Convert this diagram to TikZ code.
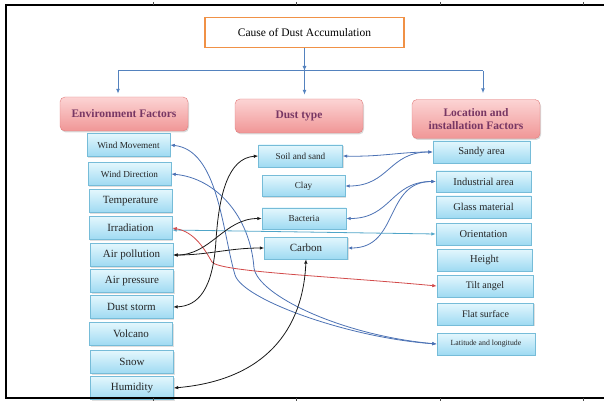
\documentclass[tikz,border=0pt]{standalone}
\usepackage{fontspec}
\setmainfont{Liberation Serif}
\usetikzlibrary{arrows.meta,shadows,positioning}
\definecolor{treeblue}{RGB}{84,130,190}
\definecolor{linkblue}{RGB}{76,114,180}
\definecolor{linkteal}{RGB}{80,165,200}
\definecolor{linkred}{RGB}{210,75,75}
\definecolor{causeorange}{RGB}{240,145,70}
\definecolor{catpurple}{RGB}{120,55,100}
\definecolor{pinktop}{RGB}{252,212,212}
\definecolor{pinkbot}{RGB}{240,150,150}
\definecolor{pinkedge}{RGB}{225,125,125}
\definecolor{cyantop}{RGB}{228,247,253}
\definecolor{cyanbot}{RGB}{158,218,242}
\definecolor{cyanedge}{RGB}{118,188,216}
\begin{document}
\begin{tikzpicture}[x=1pt,y=-1pt,every node/.style={font=\fontsize{11}{12}\selectfont}]
    \tikzset{
      cause/.style={draw=causeorange,line width=1.6pt,fill=white,minimum width=199pt,minimum height=30pt,font=\fontsize{11.5}{13}\selectfont},
      category/.style={rounded corners=5pt,draw=pinkedge,top color=pinktop,bottom color=pinkbot,
        drop shadow={shadow xshift=1pt,shadow yshift=-1.5pt,opacity=0.3},text=catpurple,align=center,
        minimum width=128pt,minimum height=34pt,inner sep=1pt,font=\bfseries\fontsize{11.5}{13}\selectfont},
      factor/.style={draw=cyanedge,top color=cyantop,bottom color=cyanbot,text=black!85,
        drop shadow={shadow xshift=1pt,shadow yshift=-1.2pt,opacity=0.25},
        minimum width=83pt,minimum height=23pt,inner sep=1pt},
      smalltext/.style={font=\fontsize{9.2}{10}\selectfont},
      midtext/.style={font=\fontsize{10.5}{12}\selectfont},
      tinytext/.style={font=\fontsize{7.8}{9}\selectfont},
      tree/.style={treeblue,line width=1pt},
      treearrow/.style={tree,-{Latex[length=5pt,width=4pt]}},
      link/.style={line width=0.8pt,{Latex[length=4.5pt,width=3.5pt]}-{Latex[length=4.5pt,width=3.5pt]}}
    }
    \useasboundingbox (0,0) rectangle (604,403);

    % top of the tree
    \node[cause] (cause) at (304.5,32.5) {Cause of Dust Accumulation};
    \node[category] (env) at (124,114) {Environment Factors};
    \node[category] (dtype) at (299,116) {Dust type};
    \node[category,minimum height=39pt] (locinst) at (476,119) {Location and\\installation Factors};
    \coordinate (split) at (304.5,71);
    \coordinate (lbranch) at (118,71);
    \coordinate (rbranch) at (483,71);
    \draw[treearrow] (cause) -- (split);
    \draw[tree] (lbranch) -- (rbranch);
    \draw[treearrow,shorten >=3pt] (lbranch) -- (lbranch |- env.north);
    \draw[treearrow,shorten >=4pt] (split) -- (split |- dtype.north);
    \draw[treearrow,shorten >=6pt] (rbranch) -- (rbranch |- locinst.north);

    % environment factors
    \node[factor,smalltext] (wmove) at (128.5,145) {Wind Movement};
    \node[factor,smalltext] (wdir) at (129.5,174) {Wind Direction};
    \node[factor] (temp) at (130.5,201) {Temperature};
    \node[factor] (irrad) at (130.5,228) {Irradiation};
    \node[factor] (airpol) at (131.5,255) {Air pollution};
    \node[factor] (airpress) at (132,281) {Air pressure};
    \node[factor] (dstorm) at (131.5,307) {Dust storm};
    \node[factor] (volcano) at (131,334) {Volcano};
    \node[factor] (snow) at (132,362) {Snow};
    \node[factor] (humid) at (132,388) {Humidity};

    % dust types
    \node[factor,smalltext,minimum width=84pt,minimum height=22pt] (soil) at (300.5,156) {Soil and sand};
    \node[factor,smalltext,minimum height=21pt] (clay) at (303.5,186) {Clay};
    \node[factor,smalltext,minimum width=84pt,minimum height=21pt] (bact) at (304,218.5) {Bacteria};
    \node[factor,minimum height=22pt] (carbon) at (306,248) {Carbon};

    % location and installation
    \node[factor,midtext,minimum width=97pt,minimum height=22pt] (sandy) at (481.5,152) {Sandy area};
    \node[factor,midtext,minimum width=95pt,minimum height=21pt] (indus) at (483.5,181.5) {Industrial area};
    \node[factor,midtext,minimum width=95pt,minimum height=22pt] (glass) at (483.5,207) {Glass material};
    \node[factor,midtext,minimum width=95pt,minimum height=22pt] (orient) at (483.5,234) {Orientation};
    \node[factor,midtext,minimum width=95pt,minimum height=22pt] (height) at (484.5,260) {Height};
    \node[factor,midtext,minimum width=96pt,minimum height=22pt,font=\fontsize{10}{11}\selectfont] (tilt) at (485,286) {Tilt angel};
    \node[factor,midtext,minimum width=96pt,minimum height=22pt,font=\fontsize{10}{11}\selectfont] (flat) at (485.5,314) {Flat surface};
    \node[factor,tinytext,minimum width=98pt,minimum height=22pt] (latlong) at (486,344) {Latitude and longitude};

    % links between the groups
    \draw[link,linkblue] (wmove.east) .. controls (218,150) and (222,230) .. (235,275)
      .. controls (243,300) and (350,338) .. (latlong.west);
    \draw[link,linkblue] (wdir.east) .. controls (215,178) and (250,215) .. (254,268)
      .. controls (258,295) and (340,335) .. (latlong.west);
    \draw[link,linkblue] (soil.east) .. controls (380,157) and (400,152) .. (sandy.west);
    \draw[link,linkblue] (clay.east) to[out=0,in=180,looseness=1.2] (sandy.west);
    \draw[link,linkblue] (bact.east) to[out=0,in=180,looseness=1.2] (indus.west);
    \draw[link,linkblue] (carbon.east) to[out=0,in=180,looseness=1.2] (indus.west);
    \draw[link,linkteal] ([yshift=-2pt]irrad.east) -- (orient.west);
    \draw[link,linkred] (irrad.east) .. controls (195,232) and (205,250) .. (212,262)
      .. controls (220,272) and (330,276) .. (tilt.west);
    \draw[link,black!90] (airpol.east) to[out=0,in=180] (bact.west);
    \draw[link,black!90] (airpol.east) to[out=0,in=180] (carbon.west);
    \draw[link,black!90] (dstorm.east) .. controls (198,306) and (213,290) .. (216,240)
      .. controls (219,195) and (228,158) .. (soil.west);
    \draw[link,black!90] (carbon.south) .. controls (303,330) and (265,380) .. (humid.east);

    % frame
    \draw[line width=2pt] (604,5) -- (6,5) -- (6,397.5) -- (604,397.5);
    \foreach \tx in {153,296,440,583} {
      \draw[black!70,line width=0.6pt] (\tx,2) -- (\tx,5);
      \draw[black!70,line width=0.6pt] (\tx,397.5) -- (\tx,401);
    }
\end{tikzpicture}
\end{document}
